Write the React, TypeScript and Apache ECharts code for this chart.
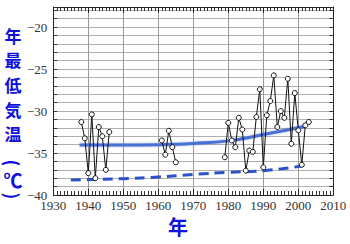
import React, { useEffect, useRef } from "react";
import * as echarts from "echarts";

const years1 = [1938, 1939, 1940, 1941, 1942, 1943, 1944, 1945, 1946];
const temps1 = [-31.3, -33.25, -37.4, -30.4, -38.0, -31.9, -33.0, -37.0, -32.5];
const years2 = [1961, 1962, 1963, 1964, 1965];
const temps2 = [-33.5, -35.2, -32.35, -34.3, -36.1];
const years3 = [1979, 1980, 1981, 1982, 1983, 1984, 1985, 1986, 1987, 1988, 1989, 1990, 1991, 1992, 1993, 1994, 1995, 1996, 1997, 1998, 1999, 2000, 2001, 2002, 2003];
const temps3 = [-35.5, -31.4, -33.5, -34.3, -30.8, -32.2, -37.1, -34.7, -34.85, -30.7, -27.4, -36.7, -30.5, -28.8, -25.75, -31.9, -30.0, -30.8, -26.15, -33.9, -27.85, -32.3, -36.4, -31.7, -31.3];

const trendYears = [1937.5, 1950, 1960, 1970, 1980, 1990, 2002];
const trendMean = [-34.05, -34.05, -34.0, -33.85, -33.55, -32.8, -31.8];
const trendLowYears = [1935, 1950, 1960, 1970, 1980, 1990, 2001];
const trendLow = [-38.2, -38.05, -37.85, -37.55, -37.3, -37.1, -36.55];

const xTicks = { min: 1930, max: 2010, interval: 10 };
const yTicks = { min: -40, max: -17.6, interval: 1, labelStep: 5 };

const yTitleChars = ["年", "最", "低", "気", "温"];
const yTitleUnit = "℃";
const xTitle = "年";

const zip = (xs: number[], ys: number[]) => xs.map((x, i) => [x, ys[i]]);

export default function App() {
  const ref = useRef<HTMLDivElement>(null);
  useEffect(() => {
    if (!ref.current) return;
    const chart = echarts.init(ref.current, undefined, { renderer: "svg" });
    const serif = "'Liberation Serif', 'DejaVu Serif', serif";
    const blue = "#1010e0";
    const cjk = "'Noto Sans CJK JP'";
    const obsStyle = {
      type: "line" as const,
      symbol: "circle",
      symbolSize: 5,
      showSymbol: true,
      lineStyle: { color: "#111", width: 1 },
      itemStyle: { color: "#fff", borderColor: "#111", borderWidth: 1 },
      z: 5,
    };
    const pitch = 24.7;
    const titleYs = yTitleChars.map((_, i) => 35 + i * pitch);
    chart.setOption({
      animation: false,
      backgroundColor: "#fff",
      grid: { left: 53.3, top: 7, width: 280, height: 188, containLabel: false },
      xAxis: [
        {
          type: "value",
          min: xTicks.min,
          max: xTicks.max,
          interval: xTicks.interval,
          position: "bottom",
          axisLine: { show: true, onZero: false, lineStyle: { color: "#222", width: 1 } },
          axisTick: { show: true, inside: true, length: 6, lineStyle: { color: "#222" } },
          minorTick: { show: true, splitNumber: 10, length: 4, lineStyle: { color: "#333" } },
          splitLine: { show: true, lineStyle: { color: "#9a9a9a", width: 1 } },
          axisLabel: {
            fontFamily: serif,
            fontSize: 13,
            color: "#333",
            margin: 4,
            formatter: (v: number) => String(Math.round(v)),
          },
        },
        {
          type: "value",
          min: xTicks.min,
          max: xTicks.max,
          interval: xTicks.interval,
          position: "top",
          axisLine: { show: true, onZero: false, lineStyle: { color: "#222", width: 1 } },
          axisTick: { show: true, inside: true, length: 6, lineStyle: { color: "#222" } },
          minorTick: { show: true, splitNumber: 10, length: 4, lineStyle: { color: "#333" } },
          splitLine: { show: false },
          axisLabel: { show: false },
        },
      ],
      yAxis: [
        {
          type: "value",
          min: yTicks.min,
          max: yTicks.max,
          interval: yTicks.interval,
          position: "left",
          axisLine: { show: true, onZero: false, lineStyle: { color: "#222", width: 1 } },
          axisTick: { show: true, inside: true, length: 4, lineStyle: { color: "#333" } },
          splitLine: { show: true, lineStyle: { color: "#b0b0b0", width: 1 } },
          axisLabel: {
            fontFamily: serif,
            fontSize: 13,
            color: "#333",
            margin: 6,
            formatter: (v: number) =>
              Math.abs(v % yTicks.labelStep) < 1e-6 ? "\u2212" + Math.abs(Math.round(v)) : "",
          },
        },
        {
          type: "value",
          min: yTicks.min,
          max: yTicks.max,
          interval: yTicks.interval,
          position: "right",
          axisLine: { show: true, onZero: false, lineStyle: { color: "#222", width: 1 } },
          axisTick: { show: true, inside: true, length: 4, lineStyle: { color: "#333" } },
          splitLine: { show: false },
          axisLabel: { show: false },
        },
      ],
      series: [
        { ...obsStyle, data: zip(years1, temps1) },
        { ...obsStyle, data: zip(years2, temps2) },
        { ...obsStyle, data: zip(years3, temps3) },
        {
          type: "line",
          smooth: true,
          showSymbol: false,
          data: zip(trendYears, trendMean),
          lineStyle: {
            color: "#4a70d2",
            width: 3,
            shadowColor: "rgba(70,110,220,0.5)",
            shadowBlur: 2,
          },
          z: 3,
        },
        {
          type: "line",
          smooth: true,
          showSymbol: false,
          data: zip(trendLowYears, trendLow),
          lineStyle: { color: "#2b52c6", width: 3, type: [10, 6] },
          z: 3,
        },
      ],
      graphic: [
        ...yTitleChars.map((c, i) => ({
          type: "text",
          x: 13,
          y: titleYs[i],
          style: {
            text: c,
            fill: blue,
            font: `bold 17px ${cjk}`,
            align: "center",
            verticalAlign: "middle",
          },
        })),
        {
          type: "text",
          x: 13,
          y: 163,
          rotation: -Math.PI / 2,
          style: { text: "(", fill: blue, font: `bold 18px ${cjk}`, align: "center", verticalAlign: "middle" },
        },
        {
          type: "text",
          x: 13,
          y: 179,
          style: { text: yTitleUnit, fill: blue, font: `bold 19px ${cjk}`, align: "center", verticalAlign: "middle" },
        },
        {
          type: "text",
          x: 13,
          y: 196,
          rotation: -Math.PI / 2,
          style: { text: ")", fill: blue, font: `bold 18px ${cjk}`, align: "center", verticalAlign: "middle" },
        },
        {
          type: "text",
          x: 178,
          y: 226,
          style: { text: xTitle, fill: blue, font: `bold 20px ${cjk}`, align: "center", verticalAlign: "middle" },
        },
      ],
    });
    return () => chart.dispose();
  }, []);
  return (
    <div
      ref={ref}
      style={{ position: "fixed", left: 0, top: 0, width: 350, height: 244, background: "#fff" }}
    />
  );
}
